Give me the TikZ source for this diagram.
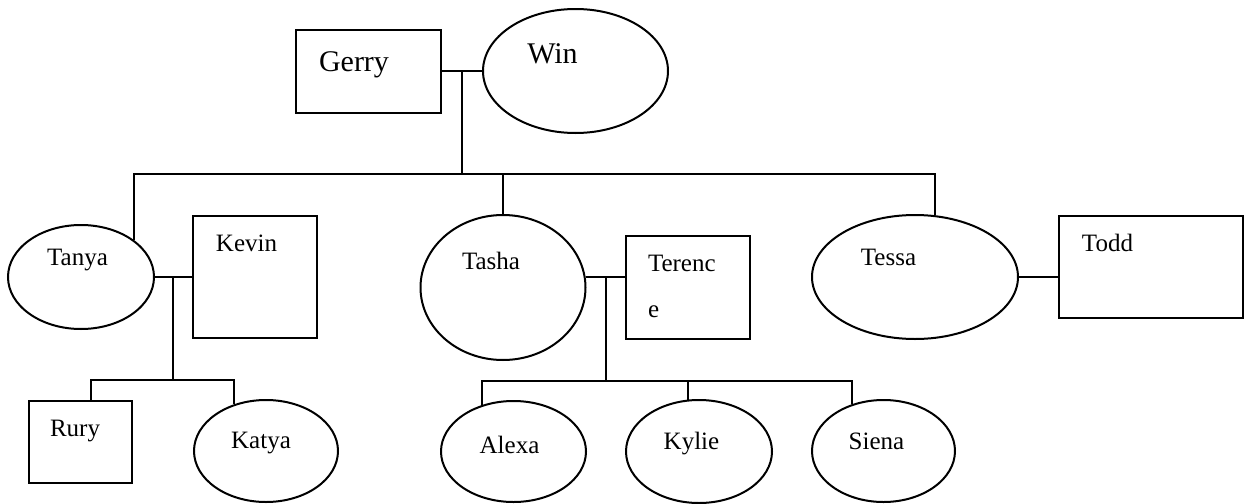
\documentclass[tikz,border=0pt]{standalone}
\usepackage{fontspec}
\setmainfont{Liberation Serif}
\usetikzlibrary{shapes.geometric}

\begin{document}
\begin{tikzpicture}[x=0.5pt,y=-0.5pt,line width=1pt,
	male/.style={draw,rectangle,inner sep=0pt},
	female/.style={draw,ellipse,inner sep=0pt},
	nametext/.style={anchor=base,inner sep=0pt,font=\fontsize{12.5}{15}\selectfont},
	bigtext/.style={anchor=base,inner sep=0pt,font=\fontsize{15}{18}\selectfont}]

\useasboundingbox (0,0) rectangle (1244,504);

% parents
\node[male,minimum width=72.5pt,minimum height=41.5pt] (gerry) at (368.5,71) {};
\node[female,minimum width=92.5pt,minimum height=62pt] (win) at (575.5,71) {};
\node[bigtext] (gerry-n) at (354,71) {Gerry};
\node[bigtext] (win-n) at (552.5,63) {Win};

% daughters and husbands
\node[female,minimum width=73pt,minimum height=52pt] (tanya) at (81,277) {};
\node[male,minimum width=62pt,minimum height=61pt] (kevin) at (255,277) {};
\node[female,minimum width=82.5pt,minimum height=72.5pt] (tasha) at (503,287.5) {};
\node[male,minimum width=62pt,minimum height=51.5pt] (terence) at (688,287.5) {};
\node[female,minimum width=103pt,minimum height=62pt] (tessa) at (915,277) {};
\node[male,minimum width=92pt,minimum height=51pt] (todd) at (1151,267) {};

\node[nametext] (tanya-n) at (77.5,265) {Tanya};
\node[nametext] (kevin-n) at (246.5,251) {Kevin};
\node[nametext] (tasha-n) at (491,269) {Tasha};
\node[nametext,anchor=base west] (terence-n) at (647,271) {Terenc};
\node[nametext,anchor=base west] (terence-m) at (647,317) {e};
\node[nametext] (tessa-n) at (888.5,265) {Tessa};
\node[nametext] (todd-n) at (1107.5,251) {Todd};

% grandchildren
\node[male,minimum width=51.5pt,minimum height=41pt] (rury) at (80.5,442) {};
\node[female,minimum width=72pt,minimum height=51pt] (katya) at (266,451) {};
\node[female,minimum width=72.5pt,minimum height=50.5pt] (alexa) at (513.5,451.5) {};
\node[female,minimum width=73pt,minimum height=51.5pt] (kylie) at (699,451.5) {};
\node[female,minimum width=71.5pt,minimum height=51pt] (siena) at (883.5,451) {};

\node[nametext] (rury-n) at (75,436) {Rury};
\node[nametext] (katya-n) at (261,448) {Katya};
\node[nametext] (alexa-n) at (509.5,453) {Alexa};
\node[nametext] (kylie-n) at (691.5,449) {Kylie};
\node[nametext] (siena-n) at (876.5,449) {Siena};

% lines
\coordinate (knot1) at (462,71);
\coordinate (sib) at (462,174);
\draw (gerry) -- (win);
\draw (knot1) -- (sib);
\draw (tanya.35) |- (sib) -| (tessa.72);
\draw (sib) -| (tasha);

\coordinate (knot2) at (173,277);
\coordinate (kids1) at (173,380);
\draw (tanya) -- (kevin);
\draw (knot2) -- (kids1);
\draw (rury.76) |- (kids1) -| (katya.124);

\coordinate (knot3) at (606,277);
\coordinate (kids2) at (606,381);
\draw (tasha.7) -- (tasha.7 -| terence.west);
\draw (knot3) -- (kids2);
\draw (alexa.124) |- (kids2) -| (siena.124);
\draw (kids2) -| (kylie.102);

\draw (tessa) -- (tessa -| todd.west);

\end{tikzpicture}
\end{document}
